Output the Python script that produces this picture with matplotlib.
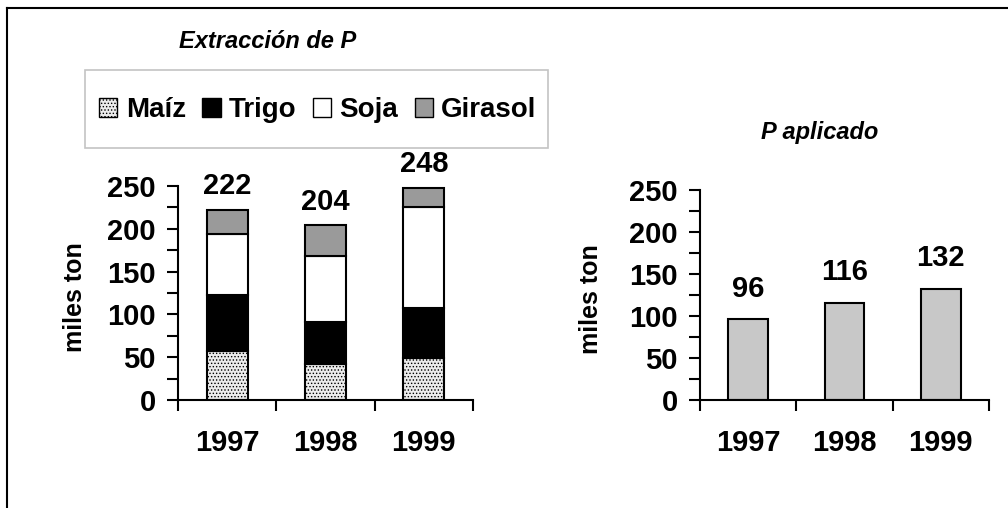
import matplotlib
matplotlib.use("Agg")
import matplotlib.pyplot as plt
from matplotlib.patches import Rectangle, Patch
from matplotlib.lines import Line2D
import numpy as np

plt.rcParams['font.family'] = ['Liberation Sans', 'DejaVu Sans']
plt.rcParams['hatch.color'] = '#9a9a9a'
plt.rcParams['hatch.linewidth'] = 0.6

years = ['1997', '1998', '1999']
maiz = [57, 42, 49]
trigo = [66, 49, 58]
soja = [71, 77, 118]
girasol = [28, 36, 23]
totals = [222, 204, 248]
p_aplicado = [96, 116, 132]

series_names = ['Maíz', 'Trigo', 'Soja', 'Girasol']
series_vals = [maiz, trigo, soja, girasol]
series_fc = ['#ececec', '#000000', '#ffffff', '#9a9a9a']
series_hatch = ['.....', None, None, None]

W, H = 1008, 508
fig = plt.figure(figsize=(W / 100, H / 100), dpi=100)

def px(x0, y0, x1, y1):
    return [x0 / W, 1 - y1 / H, (x1 - x0) / W, (y1 - y0) / H]

ax1 = fig.add_axes(px(178, 186, 473, 400))
ax2 = fig.add_axes(px(700, 190, 989, 400))

fs = 21
x = np.arange(len(years))

def style(ax):
    ax.set_xlim(-0.5, len(years) - 0.5)
    ax.set_ylim(0, 250)
    for s in ['top', 'right']:
        ax.spines[s].set_visible(False)
    for s in ['left', 'bottom']:
        ax.spines[s].set_linewidth(1.5)
        ax.spines[s].set_color('black')
    ax.set_yticks(np.arange(0, 251, 50))
    ax.set_yticks(np.arange(0, 251, 25), minor=True)
    ax.set_xticks(np.arange(-0.5, len(years), 1.0))
    ax.set_xticklabels([''] * (len(years) + 1))
    ax.set_xticks(x, minor=True)
    ax.set_xticklabels(years, minor=True, fontsize=fs, fontweight='bold')
    ax.tick_params(axis='x', which='major', direction='out', length=8, width=1.5)
    ax.tick_params(axis='x', which='minor', length=0, pad=21)
    ax.tick_params(axis='y', which='both', direction='out', length=8, width=1.5)
    ax.tick_params(axis='y', which='major', labelsize=fs, pad=8)
    for lab in ax.get_yticklabels():
        lab.set_fontweight('bold')
    ax.set_ylabel('miles ton', fontsize=18, fontweight='bold')
    ax.patch.set_alpha(0)

bottom = np.zeros(len(years))
for name, vals, fc, hatch in zip(series_names, series_vals, series_fc, series_hatch):
    ax1.bar(x, vals, 0.42, bottom=bottom, color=fc, edgecolor='black',
            linewidth=1.5, hatch=hatch, label=name)
    bottom += np.array(vals)
for xi, t in zip(x, totals):
    ax1.annotate(str(t), (xi, t), xytext=(0, 7), textcoords='offset points',
                 ha='center', va='bottom', fontsize=fs, fontweight='bold')
style(ax1)
ax1.yaxis.set_label_coords(-0.31, 0.48)

ax2.bar(x, p_aplicado, 0.41, color='#c8c8c8', edgecolor='black', linewidth=1.5)
for xi, v in zip(x, p_aplicado):
    ax2.annotate(str(v), (xi, v), xytext=(0, 12), textcoords='offset points',
                 ha='center', va='bottom', fontsize=fs, fontweight='bold')
style(ax2)
ax2.yaxis.set_label_coords(-0.335, 0.48)

fig.text(268 / W, 1 - 42 / H, 'Extracción de P', ha='center', va='center',
         fontsize=17, fontweight='bold', fontstyle='italic')
fig.text(820 / W, 1 - 133 / H, 'P aplicado', ha='center', va='center',
         fontsize=17, fontweight='bold', fontstyle='italic')

# legend box
fig.patches.append(Rectangle((85 / W, 1 - 148 / H), (548 - 85) / W, (148 - 70) / H,
                             transform=fig.transFigure, facecolor='white',
                             edgecolor='#c4c4c4', linewidth=1.2, zorder=0))
handles = [Patch(facecolor=fc, edgecolor='black', hatch=h, linewidth=1.0)
           for fc, h in zip(series_fc, series_hatch)]
fig.legend(handles, series_names, loc='center', bbox_to_anchor=(318 / W, 1 - 110 / H),
           ncol=4, frameon=False, handlelength=0.65, handleheight=0.65,
           handletextpad=0.3, columnspacing=0.6,
           prop={'size': 20, 'weight': 'bold'})

# outer frame (left and top)
fig.add_artist(Line2D([7 / W, 7 / W], [0, 1 - 8 / H], transform=fig.transFigure,
                      color='black', linewidth=1.5))
fig.add_artist(Line2D([7 / W, 1], [1 - 8 / H, 1 - 8 / H], transform=fig.transFigure,
                      color='black', linewidth=1.5))

fig.savefig('out.png', dpi=100)
